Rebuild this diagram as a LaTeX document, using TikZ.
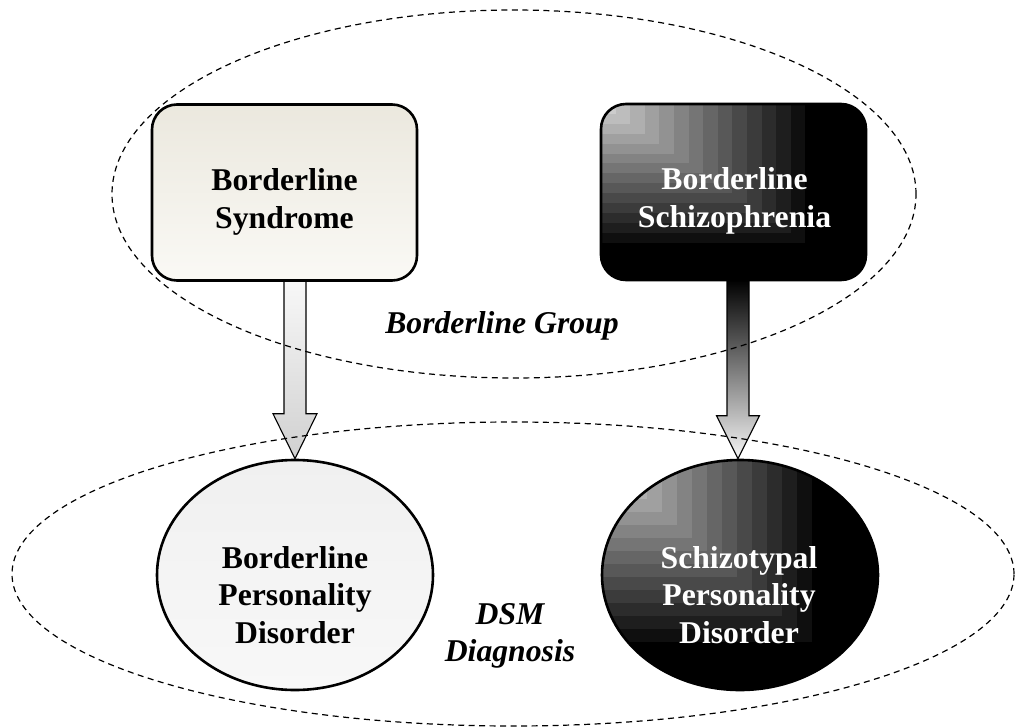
\documentclass[tikz,border=0pt]{standalone}
\usepackage{fontspec}
\setmainfont{Liberation Serif}
\usetikzlibrary{shapes.geometric,calc}

\definecolor{sandtop}{HTML}{EBE8DE}
\definecolor{sandbot}{HTML}{FAF9F5}
\definecolor{paletop}{HTML}{F0F0F0}
\definecolor{palebot}{HTML}{F8F8F8}
\definecolor{arrowlight}{HTML}{F8F8F8}
\definecolor{arrowmid}{HTML}{D0D0D0}
\definecolor{arrowwhite}{HTML}{F6F6F6}

\pgfdeclarelayer{arrowlayer}
\pgfdeclarelayer{grouplayer}
\pgfsetlayers{arrowlayer,grouplayer,main}

\tikzset{
  lbl/.style={font=\fontsize{31.7}{37.5}\selectfont\bfseries, align=center, inner sep=0pt},
  darklbl/.style={lbl, text=white},
  grouplbl/.style={font=\fontsize{31.7}{37.5}\selectfont\bfseries\itshape, align=center, inner sep=0pt},
  boxshape/.style={draw=black, line width=2.6pt, rounded corners=25pt,
    minimum width=265pt, minimum height=176pt, inner sep=0pt},
  ovalshape/.style={ellipse, draw=black, line width=2.6pt,
    minimum width=276pt, minimum height=230pt, inner sep=0pt},
  groupline/.style={draw=black, line width=1.2pt, dash pattern=on 6pt off 4.5pt},
  blockarrow/.style={draw=black, line width=1.1pt, line join=miter},
  % black fill with nested grey rectangles growing from the top-left corner
  stairfill/.style 2 args={path picture={
      \fill[black, sharp corners] (path picture bounding box.south west) rectangle (path picture bounding box.north east);
      \foreach \i in {14,13,...,1}{
        \pgfmathsetmacro\grayamt{20+(\i-1)*5.7}
        \fill[black!\grayamt!white, sharp corners] (path picture bounding box.north west) rectangle ++(\i*#1, -\i*#2);
      }}},
}

\begin{document}
\begin{tikzpicture}[x=1pt,y=-1pt]
\useasboundingbox (0,0) rectangle (1015,726);

% upper row: rounded boxes
\node[boxshape, top color=sandtop, bottom color=sandbot] (bs) at (284.5,192.5) {};
\node[boxshape, stairfill={14.6pt}{9.9pt}] (bsz) at (733.5,192) {};

% lower row: ovals
\node[ovalshape, top color=paletop, bottom color=palebot] (bpd) at (295,575) {};
\node[ovalshape, stairfill={15pt}{13pt}] (spd) at (740,575) {};

% texts
\node[lbl] (bsT) at (284.5,202) {Borderline\\Syndrome};
\node[darklbl] (bszT) at (734.5,201) {Borderline\\Schizophrenia};
\node[lbl] (bpdT) at (295,595) {Borderline\\Personality\\Disorder};
\node[darklbl] (spdT) at (739,595) {Schizotypal\\Personality\\Disorder};
\node[grouplbl, anchor=base] (grp) at (502,333) {Borderline Group};
\node[grouplbl] (dsm) at (510,636) {DSM\\Diagnosis};

% arrow tips on the ovals
\coordinate (tipL) at (bpd.north);
\coordinate (tipR) at ($(spd.north)+(-2,0)$);

% block arrows
\begin{pgfonlayer}{arrowlayer}
\path[blockarrow, top color=arrowlight, bottom color=arrowmid]
  ($(tipL |- bs.south)+(-11,-2)$) -- ($(tipL)+(-11,-45)$) -- ($(tipL)+(-22,-45)$)
  -- (tipL) -- ($(tipL)+(22,-45)$) -- ($(tipL)+(11,-45)$)
  -- ($(tipL |- bs.south)+(11,-2)$) -- cycle;
\path[blockarrow, top color=black, bottom color=arrowwhite]
  ($(tipR |- bsz.south)+(-11,-2)$) -- ($(tipR)+(-11,-43)$) -- ($(tipR)+(-21.5,-43)$)
  -- (tipR) -- ($(tipR)+(21.5,-43)$) -- ($(tipR)+(11,-43)$)
  -- ($(tipR |- bsz.south)+(11,-2)$) -- cycle;
\end{pgfonlayer}

% dashed group outlines
\begin{pgfonlayer}{grouplayer}
\draw[groupline] (514,194) ellipse [x radius=402pt, y radius=184pt];
\draw[groupline] (513,574) ellipse [x radius=501pt, y radius=152pt];
\end{pgfonlayer}
\end{tikzpicture}
\end{document}
